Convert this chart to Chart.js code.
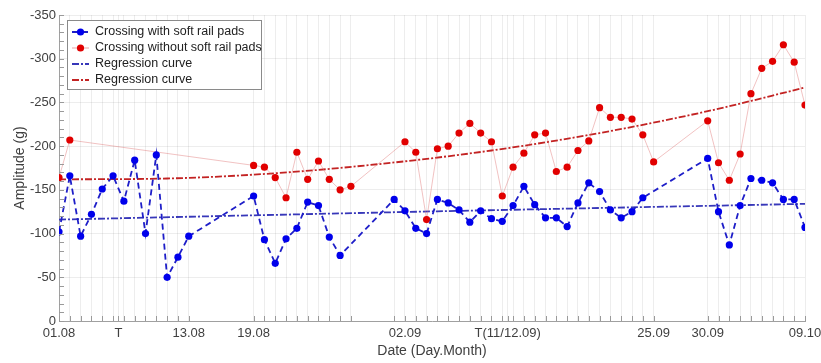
<!DOCTYPE html>
<html>
<head>
<meta charset="utf-8">
<script src="https://cdn.jsdelivr.net/npm/chart.js@4.4.0/dist/chart.umd.min.js"></script>
<style>
html, body { margin: 0; padding: 0; background: #fff; }
#wrap { width: 821px; height: 363px; position: relative; }
</style>
</head>
<body>
<div id="wrap"><canvas id="chart"></canvas></div>
<script>
// x = days counted from 01.08
const blueDays = [0,1,2,3,4,5,6,7,8,9,10,11,12,
    18,19,20,21,22,23,24,25,26,
    31,32,33,34,35,36,37,38,39,40,41,42,43,44,45,46,47,48,49,50,51,52,53,54,
    60,61,62,63,64,65,66,67,68,69]
const blueAmp = [-102,-166,-97,-122,-151,-166,-137,-184,-100,-190,-50,-73,-97,
    -143,-93,-66,-94,-106,-136,-132,-96,-75,
    -139,-126,-106,-100,-139,-135,-127,-113,-126,-117,-114,-132,-154,-133,-118,-118,-108,-135,-158,-148,-127,-118,-125,-141,
    -186,-125,-87,-132,-163,-161,-158,-139,-139,-107]

const redDays = [0,1,
    18,19,20,21,22,23,24,25,26,27,
    32,33,34,35,36,37,38,39,40,41,42,43,44,45,46,47,48,49,50,51,52,53,54,55,
    60,61,62,63,64,65,66,67,68,69]
const redAmp = [-164,-207,
    -178,-176,-164,-141,-193,-162,-183,-162,-150,-154,
    -205,-193,-116,-197,-200,-215,-226,-215,-205,-143,-176,-192,-213,-215,-171,-176,-195,-206,-244,-233,-233,-231,-213,-182,
    -229,-181,-161,-191,-260,-289,-297,-316,-296,-247]

// regression curves
const blueFitDays = [0, 35, 69]
const blueFitAmp = [-116, -125.5, -134]
const redFitDays = [0, 10, 20, 30, 40, 50, 60, 69]
const redFitAmp = [-162, -163, -169, -180, -195, -215, -240, -267]

const labelDays = [0, 5.5, 12, 18, 32, 41.5, 55, 60, 69]
const labelTexts = ['01.08', 'T', '13.08', '19.08', '02.09', 'T(11/12.09)', '25.09', '30.09', '09.10']

const tickDays = [...new Set([...blueDays, ...redDays, ...labelDays])].sort((a, b) => a - b)

const toPoints = (xs, ys) => xs.map((x, i) => ({ x: x, y: ys[i] }))

const FONT = '"Liberation Sans", Arial, sans-serif'

// small inward tick marks on both axes
const innerTicks = {
    id: 'innerTicks',
    afterDatasetsDraw(chart) {
        const { ctx, chartArea: a, scales: { x, y } } = chart
        ctx.save()
        ctx.strokeStyle = '#9a9a9a'
        ctx.lineWidth = 1
        ctx.beginPath()
        tickDays.forEach(d => {
            const px = Math.round(x.getPixelForValue(d)) + 0.5
            ctx.moveTo(px, a.bottom)
            ctx.lineTo(px, a.bottom - 5)
        })
        for (let v = -350; v <= 0; v += 10) {
            const py = Math.round(y.getPixelForValue(v)) + 0.5
            ctx.moveTo(a.left, py)
            ctx.lineTo(a.left + 5, py)
        }
        ctx.stroke()
        ctx.restore()
    }
}

// legend box inside the plot
const boxLegend = {
    id: 'boxLegend',
    afterDraw(chart) {
        const ctx = chart.ctx
        ctx.save()
        ctx.fillStyle = '#fff'
        ctx.fillRect(67, 20, 194, 69)
        ctx.strokeStyle = '#8a8a8a'
        ctx.lineWidth = 1
        ctx.strokeRect(67.5, 20.5, 194, 69)
        chart.data.datasets.forEach((ds, i) => {
            const yy = 32 + i * 16
            ctx.strokeStyle = ds.borderColor
            ctx.lineWidth = Math.max(ds.borderWidth, 1.5)
            ctx.setLineDash(ds.borderDash || [])
            ctx.beginPath()
            ctx.moveTo(72, yy)
            ctx.lineTo(89, yy)
            ctx.stroke()
            ctx.setLineDash([])
            if (ds.pointRadius > 0) {
                ctx.fillStyle = ds.pointBackgroundColor
                ctx.beginPath()
                ctx.arc(80.5, yy, ds.pointRadius, 0, Math.PI * 2)
                ctx.fill()
            }
            ctx.fillStyle = '#222'
            ctx.font = '12.5px ' + FONT
            ctx.textBaseline = 'middle'
            ctx.fillText(ds.label, 95, yy)
        })
        ctx.restore()
    }
}

new Chart(document.getElementById('chart'), {
    type: 'line',
    data: {
        datasets: [
            {
                label: 'Crossing with soft rail pads',
                data: toPoints(blueDays, blueAmp),
                borderColor: 'rgb(30,30,200)',
                borderWidth: 1.8,
                borderDash: [6, 4],
                pointRadius: 3.6,
                pointBackgroundColor: 'rgb(0,0,235)',
                pointBorderWidth: 0,
                tension: 0
            },
            {
                label: 'Crossing without soft rail pads',
                data: toPoints(redDays, redAmp),
                borderColor: 'rgba(225,120,120,0.45)',
                borderWidth: 1,
                pointRadius: 3.6,
                pointBackgroundColor: 'rgb(225,0,0)',
                pointBorderWidth: 0,
                tension: 0
            },
            {
                label: 'Regression curve',
                data: toPoints(blueFitDays, blueFitAmp),
                borderColor: 'rgb(55,55,185)',
                borderWidth: 1.8,
                borderDash: [7, 2, 2, 2],
                pointRadius: 0,
                tension: 0
            },
            {
                label: 'Regression curve',
                data: toPoints(redFitDays, redFitAmp),
                borderColor: 'rgb(195,35,35)',
                borderWidth: 1.8,
                borderDash: [7, 2, 2, 2],
                pointRadius: 0,
                cubicInterpolationMode: 'monotone'
            }
        ]
    },
    options: {
        responsive: true,
        maintainAspectRatio: false,
        animation: false,
        layout: { padding: { top: 15, right: 16, left: 0, bottom: 0 } },
        plugins: {
            legend: { display: false },
            tooltip: { enabled: false }
        },
        scales: {
            x: {
                type: 'linear',
                min: 0,
                max: 69,
                afterBuildTicks: scale => {
                    scale.ticks = tickDays.map(v => ({ value: v }))
                },
                afterFit: scale => {
                    scale.height = 42
                    scale.paddingLeft = 0
                    scale.paddingRight = 0
                },
                ticks: {
                    autoSkip: false,
                    maxRotation: 0,
                    padding: 5,
                    color: '#404040',
                    font: { family: FONT, size: 13 },
                    callback: v => {
                        const i = labelDays.indexOf(v)
                        return i >= 0 ? labelTexts[i] : ''
                    }
                },
                grid: { color: 'rgba(0,0,0,0.07)', drawTicks: false },
                border: { color: '#a0a0a0' },
                title: {
                    display: true,
                    text: 'Date (Day.Month)',
                    color: '#404040',
                    font: { family: FONT, size: 14 },
                    padding: { top: 0, bottom: 3 }
                }
            },
            y: {
                min: -350,
                max: 0,
                reverse: true,
                afterFit: scale => { scale.width = 59 },
                ticks: {
                    stepSize: 50,
                    padding: 3,
                    color: '#404040',
                    font: { family: FONT, size: 13 }
                },
                grid: { color: 'rgba(0,0,0,0.07)', drawTicks: false },
                border: { color: '#a0a0a0' },
                title: {
                    display: true,
                    text: 'Amplitude (g)',
                    color: '#404040',
                    font: { family: FONT, size: 14 },
                    padding: { top: 12, bottom: 0 }
                }
            }
        }
    },
    plugins: [innerTicks, boxLegend]
})
</script>
</body>
</html>
